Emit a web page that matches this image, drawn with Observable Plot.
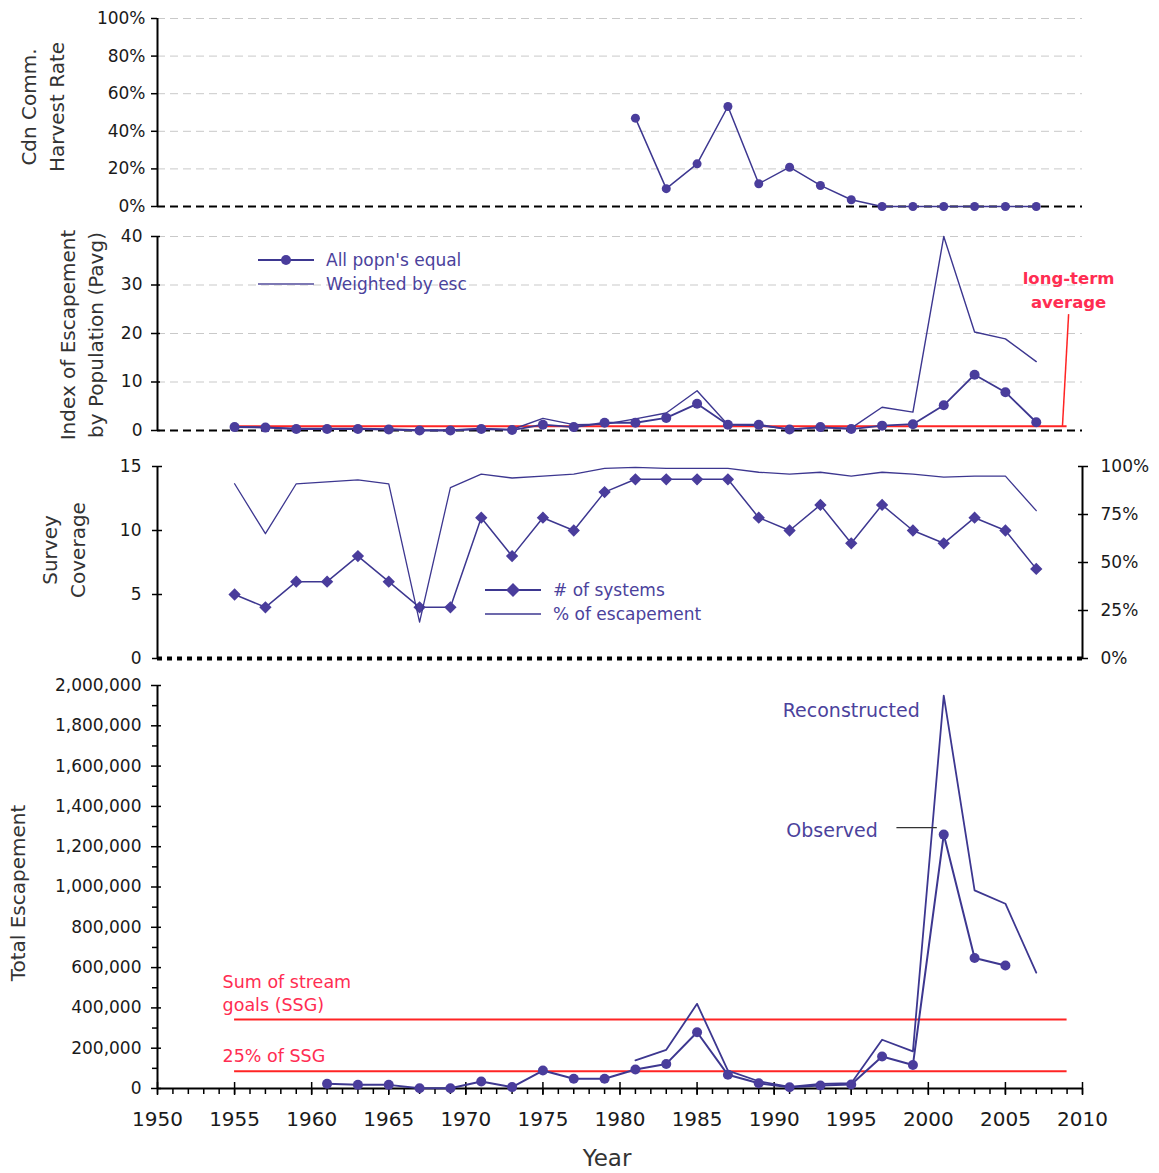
<!DOCTYPE html>
<html>
<head>
<meta charset="utf-8">
<script src="https://cdn.jsdelivr.net/npm/d3@7"></script>
<script src="https://cdn.jsdelivr.net/npm/@observablehq/plot@0.6"></script>
<style>
  body { margin: 0; background: #fff; }
  #chart { position: relative; width: 1159px; height: 1173px; font-family: "DejaVu Sans", Verdana, sans-serif; color: #222; }
  #chart svg { position: absolute; left: 0; overflow: visible; }
  .ytitle { position: absolute; transform: translate(-50%, -50%) rotate(-90deg); white-space: nowrap; text-align: center; font-size: 20px; line-height: 28px; color: #333; }
  .legend { position: absolute; font-size: 17px; color: #4b429c; white-space: nowrap; }
  .legend svg { position: static !important; vertical-align: middle; margin-right: 12px; }
  .row { height: 24px; display: flex; align-items: center; }
</style>
</head>
<body>
<div id="chart"></div>
<script>
// ---- data ----
const years = [1955, 1957, 1959, 1961, 1963, 1965, 1967, 1969, 1971, 1973, 1975, 1977, 1979,
               1981, 1983, 1985, 1987, 1989, 1991, 1993, 1995, 1997, 1999, 2001, 2003, 2005, 2007];

// Canadian commercial harvest rate
const harvestYears = [1981, 1983, 1985, 1987, 1989, 1991, 1993, 1995, 1997, 1999, 2001, 2003, 2005, 2007];
const harvestRate = [0.47, 0.095, 0.227, 0.532, 0.121, 0.209, 0.112, 0.036, 0, 0, 0, 0, 0, 0];

// Index of escapement by population (Pavg)
const pavgEqual = [0.7, 0.6, 0.3, 0.3, 0.3, 0.2, 0.0, 0.0, 0.3, 0.1, 1.2, 0.7, 1.6,
                   1.6, 2.6, 5.5, 1.2, 1.2, 0.2, 0.7, 0.3, 1.0, 1.3, 5.2, 11.5, 7.9, 1.7];
const pavgWeighted = [0.8, 0.7, 0.4, 0.4, 0.4, 0.3, 0.1, 0.1, 0.4, 0.2, 2.5, 1.2, 1.3,
                      2.4, 3.6, 8.2, 1.2, 1.0, 0.3, 0.6, 0.5, 4.8, 3.8, 40, 20.3, 18.9, 14.2];
const longTermAverage = 0.9;

// Survey coverage
const systemsSurveyed = [5, 4, 6, 6, 8, 6, 4, 4, 11, 8, 11, 10, 13,
                         14, 14, 14, 14, 11, 10, 12, 9, 12, 10, 9, 11, 10, 7];
const pctEscapement = [91, 65, 91, 92, 93, 91, 19, 89, 96, 94, 95, 96, 99,
                       99.5, 99, 99, 99, 97, 96, 97, 95, 97, 96, 94.5, 95, 95, 77];

// Total escapement
const observedYears = [1961, 1963, 1965, 1967, 1969, 1971, 1973, 1975, 1977, 1979, 1981, 1983,
                       1985, 1987, 1989, 1991, 1993, 1995, 1997, 1999, 2001, 2003, 2005];
const observedEsc = [23000, 18000, 18000, 1500, 1500, 35000, 7000, 89000, 48000, 48000, 94000, 122000,
                     279000, 68000, 26000, 6500, 15000, 20000, 159000, 117000, 1260000, 648000, 610000];
const reconYears = [1981, 1983, 1985, 1987, 1989, 1991, 1993, 1995, 1997, 1999, 2001, 2003, 2005, 2007];
const reconEsc = [140000, 192000, 420000, 89000, 36000, 8000, 23000, 26000, 242000, 184000, 1950000, 983000, 917000, 575000];
const sumStreamGoals = 342000;
const goalSpan = [1955, 2009];

// tick values
const harvestTicks = [0, 0.2, 0.4, 0.6, 0.8, 1.0];
const pavgTicks = [0, 10, 20, 30, 40];
const systemTicks = [0, 5, 10, 15];
const pctTicks = [0, 25, 50, 75, 100];
const escTicks = [0, 200000, 400000, 600000, 800000, 1000000, 1200000, 1400000, 1600000, 1800000, 2000000];
const escMinorTicks = [100000, 300000, 500000, 700000, 900000, 1100000, 1300000, 1500000, 1700000, 1900000];
const yearTicks = [1950, 1955, 1960, 1965, 1970, 1975, 1980, 1985, 1990, 1995, 2000, 2005, 2010];
const yearMinorTicks = d3.range(1950, 2011);

// ---- tables ----
const harvest = harvestYears.map((year, i) => ({year, value: harvestRate[i]}));
const pavg = years.map((year, i) => ({year, equal: pavgEqual[i], weighted: pavgWeighted[i]}));
const coverage = years.map((year, i) => ({year, systems: systemsSurveyed[i], pct: pctEscapement[i]}));
const observed = observedYears.map((year, i) => ({year, value: observedEsc[i]}));
const recon = reconYears.map((year, i) => ({year, value: reconEsc[i]}));
const goals = [
  {label: "Sum of stream\ngoals (SSG)", value: sumStreamGoals},
  {label: "25% of SSG", value: sumStreamGoals * 0.25}
];

// ---- styling ----
const INK = "#3d3790";
const DOT = "#4a3d9c";
const RED = "#ff2424";
const RED_TEXT = "#ff2d52";
const GRID = "#c9c9c9";
const TICK_TEXT = {letterSpacing: "1px"};

const chart = document.getElementById("chart");
const base = (height, marginTop, marginBottom, showX = false) => ({
  width: 1159, height, marginLeft: 157, marginRight: 77, marginTop, marginBottom,
  x: showX ? {domain: [1950, 2010], label: null} : {domain: [1950, 2010], axis: null, label: null},
  style: {background: "transparent", overflow: "visible", fontFamily: "DejaVu Sans, Verdana, sans-serif", fontSize: "17px", color: "#1a1a1a"}
});
function place(svg, top) {
  svg.style.top = top + "px";
  chart.appendChild(svg);
}

// Panel 1: harvest rate
place(Plot.plot({
  ...base(230, 18, 24),
  y: {domain: [0, 1], label: null},
  marks: [
    Plot.ruleY(harvestTicks.slice(1), {stroke: GRID, strokeDasharray: "8,5"}),
    Plot.ruleY([0], {stroke: "#000", strokeWidth: 2, strokeDasharray: "8,5"}),
    Plot.ruleX([1950], {stroke: "#000", strokeWidth: 2}),
    Plot.axisY({ticks: harvestTicks, label: null, tickFormat: d => Math.round(d * 100) + "%", tickSize: 6, tickPadding: 6, stroke: "#000", strokeWidth: 1.5, style: TICK_TEXT}),
    Plot.line(harvest, {x: "year", y: "value", stroke: INK, strokeWidth: 1.5}),
    Plot.dot(harvest, {x: "year", y: "value", fill: DOT, r: 4.5})
  ]
}), 0);

// Panel 2: Pavg index
place(Plot.plot({
  ...base(220, 10, 16),
  y: {domain: [0, 40], label: null},
  marks: [
    Plot.ruleY(pavgTicks.slice(1), {stroke: GRID, strokeDasharray: "8,5"}),
    Plot.ruleY([0], {stroke: "#000", strokeWidth: 2, strokeDasharray: "8,5"}),
    Plot.ruleX([1950], {stroke: "#000", strokeWidth: 2}),
    Plot.axisY({ticks: pavgTicks, label: null, tickSize: 9, dx: 3, tickPadding: 9, stroke: "#000", strokeWidth: 1.5, style: TICK_TEXT}),
    Plot.ruleY([longTermAverage], {x1: goalSpan[0], x2: goalSpan[1], stroke: RED, strokeWidth: 2}),
    Plot.link([{x1: 2008.7, y1: longTermAverage, x2: 2009.1, y2: 24}], {x1: "x1", y1: "y1", x2: "x2", y2: "y2", stroke: RED, strokeWidth: 1.5}),
    Plot.text([{x: 2009.1, y: 24}], {x: "x", y: "y", text: () => "long-term\naverage", lineAnchor: "bottom", dy: -6, lineHeight: 1.45, fill: RED_TEXT, fontSize: 16.5, fontWeight: "bold"}),
    Plot.line(pavg, {x: "year", y: "weighted", stroke: INK, strokeWidth: 1.4}),
    Plot.line(pavg, {x: "year", y: "equal", stroke: INK, strokeWidth: 1.8}),
    Plot.dot(pavg, {x: "year", y: "equal", fill: DOT, r: 5})
  ]
}), 226);

// Panel 3: survey coverage (left axis, number of systems)
place(Plot.plot({
  ...base(220, 16, 12),
  y: {domain: [0, 15], label: null},
  marks: [
    Plot.ruleY([0], {stroke: "#000", strokeWidth: 4, strokeDasharray: "5,5"}),
    Plot.ruleX([1950], {stroke: "#000", strokeWidth: 2}),
    Plot.axisY({ticks: systemTicks, label: null, tickSize: 10, dx: 5, tickPadding: 11, stroke: "#000", strokeWidth: 1.5, style: TICK_TEXT}),
    Plot.line(coverage, {x: "year", y: "systems", stroke: INK, strokeWidth: 1.5}),
    Plot.dot(coverage, {x: "year", y: "systems", fill: DOT, stroke: DOT, symbol: "diamond2", r: 4.6})
  ]
}), 450);

// Panel 3: survey coverage (right axis, percent of escapement)
place(Plot.plot({
  ...base(220, 16, 12),
  y: {domain: [0, 100], label: null},
  marks: [
    Plot.ruleX([2010], {stroke: "#000", strokeWidth: 2}),
    Plot.axisY({anchor: "right", label: null, ticks: pctTicks, tickFormat: d => d + "%", tickSize: 10, dx: -5, tickPadding: 13, stroke: "#000", strokeWidth: 1.5, style: TICK_TEXT}),
    Plot.line(coverage, {x: "year", y: "pct", stroke: INK, strokeWidth: 1.3})
  ]
}), 450);

// Panel 4: total escapement
const obs2001 = observed.filter(d => d.year === 2001);
const recon2001 = recon.filter(d => d.year === 2001);
place(Plot.plot({
  ...base(503, 15, 85, true),
  y: {domain: [0, 2000000], label: null},
  marks: [
    Plot.ruleY([0], {stroke: "#000", strokeWidth: 2}),
    Plot.ruleX([1950], {stroke: "#000", strokeWidth: 2}),
    Plot.axisY({ticks: escTicks, label: null, tickFormat: d3.format(","), tickSize: 10, dx: 4, tickPadding: 10, stroke: "#000", strokeWidth: 1.5, style: TICK_TEXT}),
    Plot.axisY({ticks: escMinorTicks, label: null, tickFormat: () => "", tickSize: 5, stroke: "#000", strokeWidth: 1.5}),
    Plot.axisX({ticks: yearTicks, label: null, tickFormat: d => String(d), tickSize: 13, dy: -6, tickPadding: 16, fontSize: 20, stroke: "#000", strokeWidth: 1.5, style: TICK_TEXT}),
    Plot.axisX({ticks: yearMinorTicks, label: null, tickFormat: () => "", tickSize: 6, stroke: "#000", strokeWidth: 1.5}),
    Plot.ruleY(goals, {y: "value", x1: goalSpan[0], x2: goalSpan[1], stroke: RED, strokeWidth: 2}),
    Plot.text(goals, {x: goalSpan[0], y: "value", text: "label", textAnchor: "start", lineAnchor: "bottom", dx: -12, dy: -9, lineHeight: 1.3, fill: RED_TEXT, fontSize: 17.5}),
    Plot.line(recon, {x: "year", y: "value", stroke: INK, strokeWidth: 1.8}),
    Plot.line(observed, {x: "year", y: "value", stroke: INK, strokeWidth: 2}),
    Plot.dot(observed, {x: "year", y: "value", fill: DOT, r: 5}),
    Plot.text(recon2001, {x: "year", y: "value", text: () => "Reconstructed", textAnchor: "end", dx: -24, dy: 15, fill: "#4b429c", fontSize: 19}),
    Plot.text(obs2001, {x: "year", y: "value", text: () => "Observed", textAnchor: "end", dx: -66, dy: -4, fill: "#4b429c", fontSize: 19}),
    Plot.link(obs2001, {x1: d => d.year - 3.07, x2: d => d.year - 0.45, y1: "value", y2: "value", dy: -7, stroke: "#333", strokeWidth: 1.2})
  ]
}), 670);

// ---- axis titles ----
function title(html, cx, cy, size) {
  const div = document.createElement("div");
  div.className = "ytitle";
  div.innerHTML = html;
  div.style.left = cx + "px";
  div.style.top = cy + "px";
  if (size) div.style.fontSize = size + "px";
  chart.appendChild(div);
}
title("Cdn Comm.<br>Harvest Rate", 43, 107);
title("Index of Escapement<br>by Population (Pavg)", 82, 335);
title("Survey<br>Coverage", 64, 550);
title("Total Escapement", 18, 893);
const xTitle = document.createElement("div");
xTitle.textContent = "Year";
Object.assign(xTitle.style, {position: "absolute", left: "607px", top: "1158px", transform: "translate(-50%,-50%)", fontSize: "23px", color: "#333"});
chart.appendChild(xTitle);

// ---- legends ----
function legend(left, top, items) {
  const box = document.createElement("div");
  box.className = "legend";
  box.style.left = left + "px";
  box.style.top = top + "px";
  for (const it of items) {
    const row = document.createElement("div");
    row.className = "row";
    const s = d3.create("svg").attr("width", 56).attr("height", 14);
    s.append("line").attr("x1", 0).attr("x2", 56).attr("y1", 7).attr("y2", 7).attr("stroke", it.color || INK).attr("stroke-width", it.width);
    if (it.marker === "dot") s.append("circle").attr("cx", 28).attr("cy", 7).attr("r", 5).attr("fill", DOT);
    if (it.marker === "diamond") s.append("path").attr("d", "M28,0L35,7L28,14L21,7Z").attr("fill", DOT);
    row.appendChild(s.node());
    row.appendChild(document.createTextNode(it.label));
    box.appendChild(row);
  }
  chart.appendChild(box);
}
legend(258, 248, [
  {label: "All popn's equal", marker: "dot", width: 1.8},
  {label: "Weighted by esc", marker: null, width: 2, color: "#7d78b4"}
]);
legend(485, 578, [
  {label: "# of systems", marker: "diamond", width: 1.8},
  {label: "% of escapement", marker: null, width: 1.5}
]);
</script>
</body>
</html>
